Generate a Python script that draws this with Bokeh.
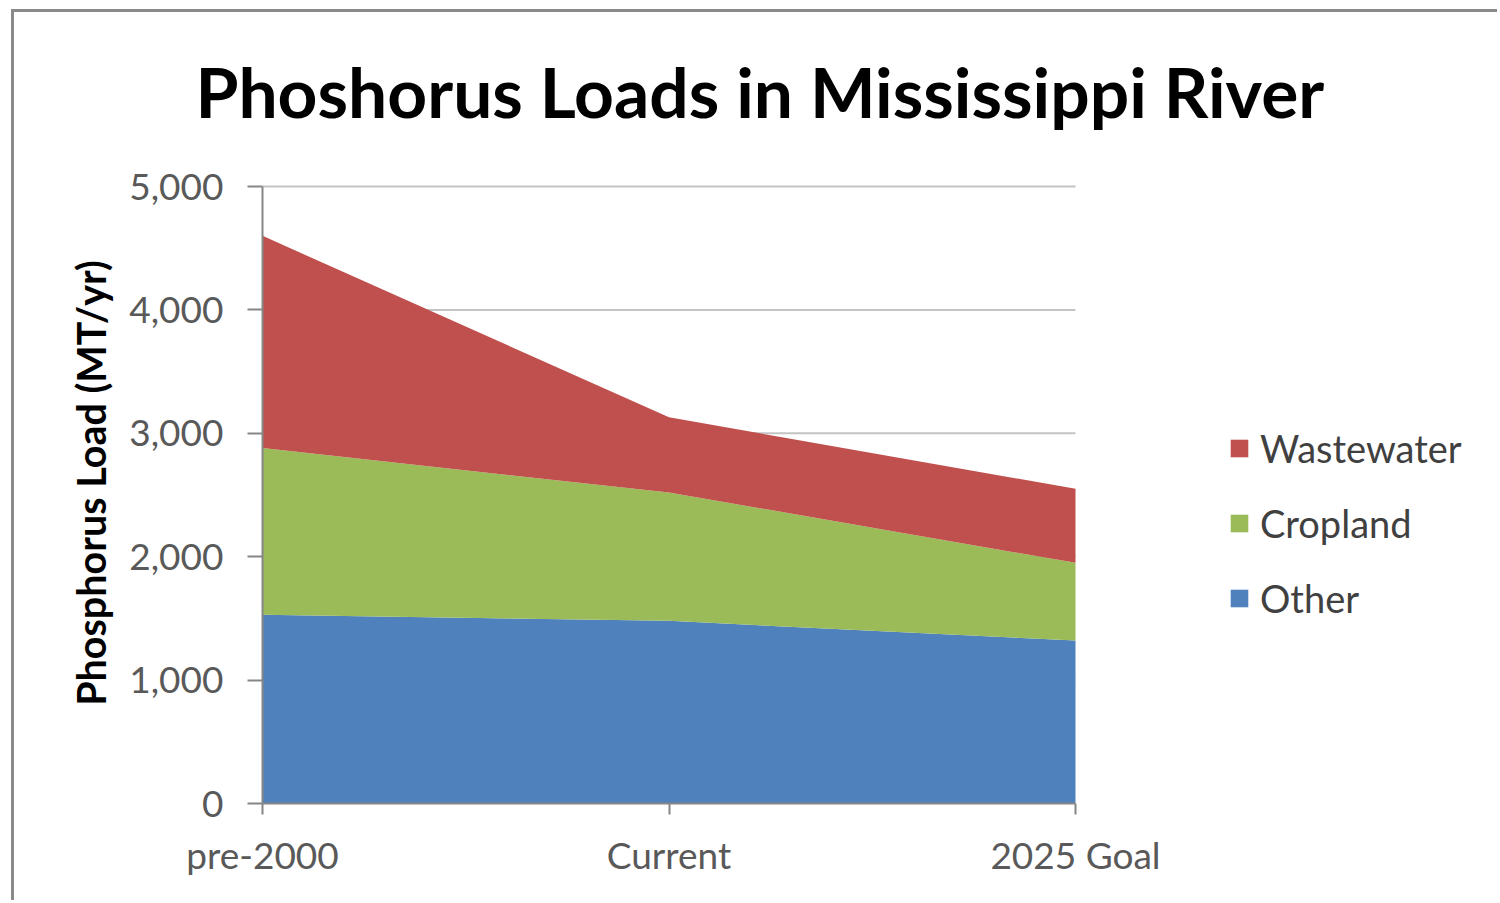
from bokeh.plotting import figure
from bokeh.models import Range1d, FixedTicker, NumeralTickFormatter, Legend, LegendItem
from bokeh.embed import file_html
from bokeh.resources import INLINE

categories = ["pre-2000", "Current", "2025 Goal"]
other = [1530, 1480, 1320]
cropland = [1350, 1040, 630]
wastewater = [1720, 610, 600]
series_names = ["Other", "Cropland", "Wastewater"]
colors = ["#4F81BD", "#9BBB59", "#C0504D"]
y_ticks = [0, 1000, 2000, 3000, 4000, 5000]
title_text = "Phoshorus Loads in Mississippi River"

FONT = "Lato"
Y_MAX = 5000

# frame extends to the right edge so the legend (inside it) is never clipped
p = figure(width=1486, height=891, output_backend="svg", toolbar_location=None,
           x_range=Range1d(0, (len(categories) - 1) * 1238 / 813),
           y_range=Range1d(0, Y_MAX * 641 / 617),
           min_border_left=248, min_border_right=0, min_border_top=150, min_border_bottom=100)
p.styles = {"margin-left": "11px", "margin-top": "9px",
            "border-top": "3px solid #8a8a8a", "border-left": "3px solid #8a8a8a"}

xs = list(range(len(categories)))

# horizontal gridlines (behind the areas), limited to the category extent
grid_y = [t for t in y_ticks if t > 0]
p.segment(x0=[xs[0]] * len(grid_y), x1=[xs[-1]] * len(grid_y), y0=grid_y, y1=grid_y,
          line_color="#c4c4c4", line_width=2)

data = {"x": xs, "Other": other, "Cropland": cropland, "Wastewater": wastewater}
renderers = p.varea_stack(stackers=series_names, x="x", color=colors, source=data)

# Title
p.title.text = title_text
p.title.text_font = FONT
p.title.text_font_style = "bold"
p.title.text_font_size = "69.5px"
p.title.text_color = "#000000"
p.title.align = "left"
p.title.offset = -67
p.title.standoff = 60

# Axes
p.xaxis.ticker = FixedTicker(ticks=xs)
p.xaxis.major_label_overrides = {i: c for i, c in enumerate(categories)}
p.xaxis.bounds = (xs[0], xs[-1])
p.yaxis.ticker = FixedTicker(ticks=y_ticks)
p.yaxis.bounds = (0, Y_MAX)
p.yaxis.formatter = NumeralTickFormatter(format="0,0")
for ax in (p.xaxis, p.yaxis):
    ax.axis_line_color = "#868686"
    ax.axis_line_width = 2
    ax.major_tick_line_color = "#868686"
    ax.major_tick_line_width = 2
    ax.major_tick_in = 0
    ax.minor_tick_line_color = None
    ax.major_label_text_font = FONT
    ax.major_label_text_font_size = "37px"
    ax.major_label_text_color = "#595959"
p.xaxis.major_tick_out = 11
p.yaxis.major_tick_out = 15
p.yaxis.major_label_standoff = 24
p.xaxis.major_label_standoff = 17
p.yaxis.axis_label = "Phosphorus Load (MT/yr)"
p.yaxis.axis_label_text_font = FONT
p.yaxis.axis_label_text_font_style = "bold"
p.yaxis.axis_label_text_font_size = "39.5px"
p.yaxis.axis_label_text_color = "#000000"
p.yaxis.axis_label_standoff = 12

p.xgrid.grid_line_color = None
p.ygrid.grid_line_color = None
p.outline_line_color = None

# Legend
items = [LegendItem(label=series_names[i], renderers=[renderers[i]]) for i in (2, 1, 0)]
legend = Legend(items=items, location=(966, 182), orientation="vertical",
                label_text_font=FONT, label_text_font_size="38px", label_text_color="#404040",
                glyph_width=22, glyph_height=22, label_height=46, spacing=29,
                padding=0, margin=0, label_standoff=10,
                border_line_color=None, background_fill_alpha=0)
p.add_layout(legend, "center")

open("out.html", "w").write(file_html(p, INLINE))
